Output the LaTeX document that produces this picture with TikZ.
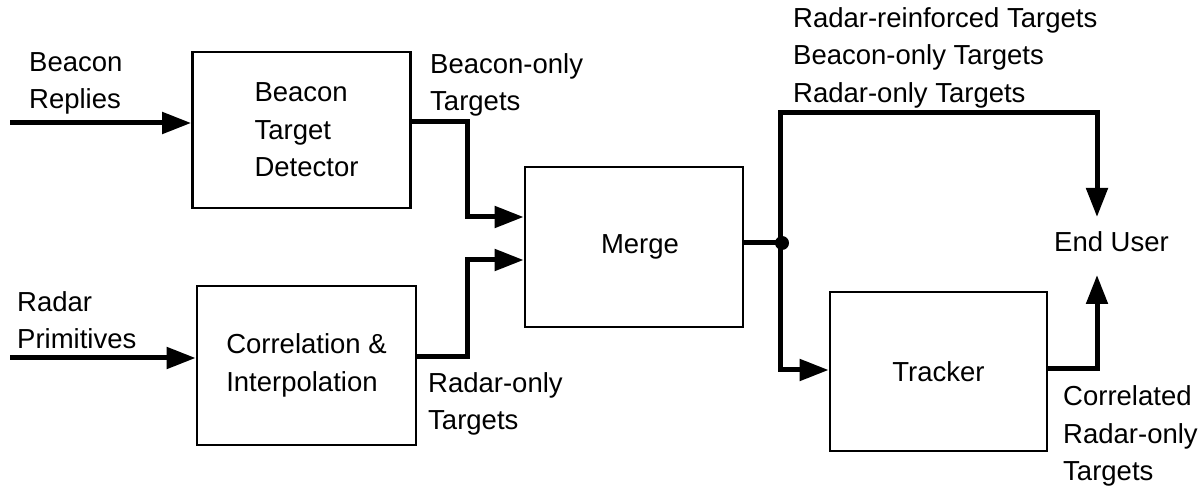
\documentclass[tikz,border=0pt]{standalone}
\usepackage{fontspec}
\setmainfont{Liberation Sans}
\usetikzlibrary{arrows.meta,calc}
\begin{document}
\begin{tikzpicture}[x=1pt,y=-1pt,
  box/.style={draw,line width=2.7pt,rectangle,align=left,inner sep=0pt},
  flow/.style={line width=5pt,-{Triangle[length=29pt,width=21pt]}},
  wire/.style={line width=5pt},
  lbl/.style={align=left,inner sep=0pt,anchor=west},
  font=\fontsize{27.5}{37.5}\selectfont]
\useasboundingbox (0,0) rectangle (1203,486);

% boxes
\node[box,minimum width=218pt,minimum height=156pt] (det) at (301.5,130) {\hspace*{10pt}Beacon\\\hspace*{10pt}Target\\\hspace*{10pt}Detector};
\node[box,minimum width=219pt,minimum height=159pt] (corr) at (306.5,365.5) {Correlation \&\\Interpolation};
\node[box,minimum width=218pt,minimum height=160pt] (merge) at (634,247) {\hspace*{12pt}Merge};
\node[box,minimum width=217pt,minimum height=159pt] (trk) at (938.5,371.5) {Tracker};

% labels
\node[lbl] (lbr) at (29,83.5) {Beacon\\Replies};
\node[lbl] (lrp) at (17,320) {Radar\\Primitives};
\node[lbl] (lbo) at (430,85) {Beacon-only\\Targets};
\node[lbl] (lro) at (428,404) {Radar-only\\Targets};
\node[lbl] (lall) at (793,57.5) {Radar-reinforced Targets\\Beacon-only Targets\\Radar-only Targets};
\node[lbl] (lcor) at (1063,436) {Correlated\\Radar-only\\Targets};
\node[lbl] (eu) at (1054,242) {End User};

% coordinates
\coordinate (bin) at (10,123);
\coordinate (rin) at (10,358);
\coordinate (j) at (780,243);
\coordinate (eutop) at (1097,217);
\coordinate (eubot) at (1097,275);

% connectors
\draw[flow] (bin) -- (det.west |- bin);
\draw[flow] (rin) -- (corr.west |- rin);
\draw[flow] (det.east |- 0,122) -| (467,217) -- (merge.west |- 0,217);
\draw[flow] (corr.east |- 0,357) -| (467,260) -- (merge.west |- 0,260);
\draw[wire] (merge.east |- j) -- (j);
\fill (782,243) circle (7pt);
\draw[flow] (j) |- (1097,113) -- (eutop);
\draw[flow] (j) |- (trk.west |- 0,370);
\draw[flow] (trk.east |- 0,369) -| (eubot);
\end{tikzpicture}
\end{document}
